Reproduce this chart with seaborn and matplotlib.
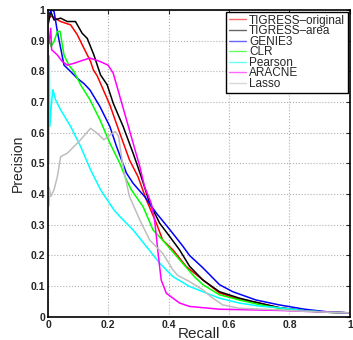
import numpy as np
import pandas as pd
import seaborn as sns
import matplotlib
matplotlib.use("Agg")
import matplotlib.pyplot as plt

# Curvas precision-recall
metodos = ["TIGRESS\u2013original", "TIGRESS\u2013area", "GENIE3", "CLR", "Pearson", "ARACNE", "Lasso"]
colores = ["#ff0000", "#000000", "#0000ff", "#00ff00", "#00ffff", "#ff00ff", "#bebebe"]

rec_original = [0.0, 0.01, 0.042, 0.075, 0.097, 0.119, 0.141, 0.15, 0.163, 0.183, 0.205, 0.238, 0.27, 0.298,
                0.326, 0.359, 0.38, 0.414, 0.458, 0.496, 0.568, 0.634, 0.7, 0.766, 0.85, 0.93, 1.0]
prec_original = [0.97, 0.98, 0.962, 0.951, 0.919, 0.875, 0.832, 0.805, 0.785, 0.74, 0.69, 0.598, 0.511, 0.457,
                 0.381, 0.305, 0.25, 0.218, 0.164, 0.134, 0.078, 0.057, 0.045, 0.030, 0.02, 0.015, 0.013]

rec_area = [0.0, 0.009, 0.02, 0.042, 0.064, 0.091, 0.113, 0.13, 0.152, 0.174, 0.196, 0.216, 0.249, 0.282, 0.306,
            0.337, 0.37, 0.403, 0.436, 0.469, 0.513, 0.568, 0.634, 0.7, 0.766, 0.85, 0.93, 1.0]
prec_area = [0.95, 0.995, 0.967, 0.973, 0.962, 0.962, 0.924, 0.907, 0.853, 0.788, 0.756, 0.696, 0.62, 0.533, 0.465,
             0.37, 0.305, 0.262, 0.218, 0.165, 0.12, 0.082, 0.061, 0.045, 0.030, 0.02, 0.015, 0.013]

rec_genie = [0.0, 0.012, 0.02, 0.031, 0.042, 0.053, 0.075, 0.097, 0.119, 0.139, 0.172, 0.205, 0.227, 0.26, 0.282,
             0.32, 0.359, 0.403, 0.447, 0.469, 0.513, 0.568, 0.612, 0.689, 0.766, 0.85, 0.93, 1.0]
prec_genie = [0.98, 1.0, 0.995, 0.929, 0.875, 0.82, 0.799, 0.777, 0.76, 0.739, 0.685, 0.62, 0.555, 0.468, 0.435,
              0.392, 0.338, 0.285, 0.23, 0.2, 0.16, 0.105, 0.082, 0.055, 0.039, 0.025, 0.016, 0.013]

rec_clr = [0.005, 0.01, 0.02, 0.031, 0.04, 0.053, 0.069, 0.086, 0.108, 0.139, 0.172, 0.205, 0.238, 0.26, 0.276,
           0.315, 0.348, 0.38, 0.436, 0.485, 0.513, 0.568, 0.634, 0.7, 0.766, 0.85, 0.93, 1.0]
prec_clr = [0.9, 0.88, 0.897, 0.929, 0.93, 0.853, 0.82, 0.799, 0.756, 0.707, 0.642, 0.566, 0.5, 0.446, 0.414,
            0.359, 0.283, 0.25, 0.186, 0.131, 0.105, 0.072, 0.055, 0.04, 0.028, 0.02, 0.015, 0.013]

rec_pearson = [0.002, 0.004, 0.006, 0.012, 0.016, 0.025, 0.042, 0.075, 0.108, 0.141, 0.174, 0.218, 0.238, 0.282,
               0.326, 0.37, 0.414, 0.469, 0.513, 0.568, 0.634, 0.7, 0.766, 0.85, 0.93, 1.0]
prec_pearson = [0.5, 0.85, 0.62, 0.7, 0.74, 0.707, 0.674, 0.62, 0.555, 0.479, 0.414, 0.349, 0.327, 0.283,
                0.229, 0.175, 0.131, 0.099, 0.082, 0.061, 0.045, 0.035, 0.03, 0.02, 0.015, 0.013]

rec_aracne = [0.003, 0.009, 0.012, 0.031, 0.047, 0.064, 0.086, 0.119, 0.139, 0.172, 0.199, 0.216, 0.238, 0.26,
              0.282, 0.304, 0.32, 0.342, 0.353, 0.359, 0.366, 0.375, 0.392, 0.436, 0.469, 0.568, 0.766, 1.0]
prec_aracne = [0.89, 0.94, 0.87, 0.853, 0.832, 0.82, 0.826, 0.837, 0.843, 0.832, 0.82, 0.794, 0.718, 0.642,
               0.566, 0.49, 0.424, 0.37, 0.316, 0.262, 0.196, 0.12, 0.077, 0.045, 0.034, 0.025, 0.021, 0.013]

rec_lasso = [0.0, 0.002, 0.004, 0.009, 0.02, 0.031, 0.042, 0.064, 0.086, 0.108, 0.141, 0.163, 0.185, 0.207, 0.223,
             0.234, 0.245, 0.254, 0.27, 0.304, 0.337, 0.38, 0.414, 0.43, 0.469, 0.513, 0.546, 0.579, 0.634, 0.766,
             0.85, 0.93, 1.0]
prec_lasso = [1.0, 0.36, 0.42, 0.392, 0.414, 0.457, 0.522, 0.533, 0.555, 0.577, 0.614, 0.598, 0.577, 0.593, 0.604,
              0.587, 0.511, 0.462, 0.392, 0.316, 0.25, 0.207, 0.153, 0.135, 0.115, 0.088, 0.061, 0.039, 0.028, 0.023,
              0.018, 0.015, 0.013]

recalls = [rec_original, rec_area, rec_genie, rec_clr, rec_pearson, rec_aracne, rec_lasso]
precisions = [prec_original, prec_area, prec_genie, prec_clr, prec_pearson, prec_aracne, prec_lasso]

filas = []
for m, r, p in zip(metodos, recalls, precisions):
    for i in range(len(r)):
        filas.append({"metodo": m, "orden": i, "Recall": r[i], "Precision": p[i]})
datos = pd.DataFrame(filas)

sns.set_style("white")
plt.rcParams['font.family'] = ['Liberation Sans', 'DejaVu Sans']

fig = plt.figure(figsize=(3.53, 3.40), dpi=100)
ax = fig.add_axes([0.136, 0.068, 0.855, 0.903])

sns.lineplot(data=datos, x="Recall", y="Precision", hue="metodo", hue_order=metodos,
             palette=dict(zip(metodos, colores)), sort=False, estimator=None, units="metodo",
             linewidth=1.1, ax=ax)

ax.set_xlim(0, 1)
ax.set_ylim(0, 1)
ax.set_xticks(np.arange(0, 1.01, 0.2))
ax.set_yticks(np.arange(0, 1.01, 0.1))
ax.set_xticklabels(["0", "0.2", "0.4", "0.6", "0.8", "1"])
ax.set_yticklabels(["0", "0.1", "0.2", "0.3", "0.4", "0.5", "0.6", "0.7", "0.8", "0.9", "1"])
ax.tick_params(direction="in", length=3, width=0.8, labelsize=7.5, pad=2, top=True, right=True)
for t in ax.get_xticklabels() + ax.get_yticklabels():
    t.set_fontweight("bold")
ax.grid(True, linestyle=":", color="#b0b0b0", linewidth=0.8)
for s in ax.spines.values():
    s.set_color("black")
    s.set_linewidth(1.2)

ax.set_xlabel("Recall", fontsize=11)
ax.xaxis.set_label_coords(0.5, -0.032)
ax.set_ylabel("Precision", fontsize=10, labelpad=4)

leg = ax.legend(loc="upper right", fontsize=8.5, handlelength=1.4, handletextpad=0.3,
                labelspacing=-0.12, borderpad=0.25, borderaxespad=0.15, fancybox=False, framealpha=1)
leg.get_frame().set_edgecolor("black")
leg.get_frame().set_linewidth(1.0)
for h in leg.get_lines():
    h.set_linewidth(1.0)
    h.set_alpha(0.6)

fig.savefig("out.png", dpi=100)
